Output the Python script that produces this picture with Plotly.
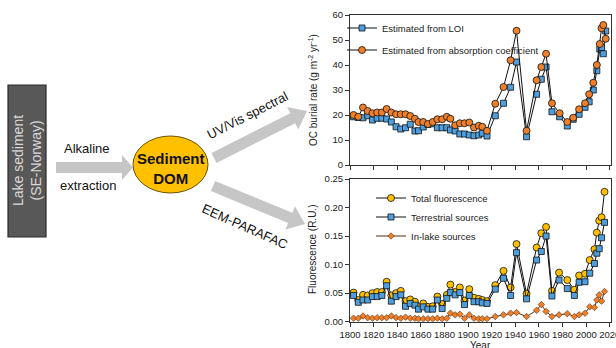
import math
import plotly.graph_objects as go

W, H = 616, 348
FONT = "Liberation Sans, Arial, sans-serif"

# ---------------- data ----------------
years_top = [1803, 1807, 1811, 1815, 1819, 1823, 1827, 1831, 1835, 1839,
             1843, 1847, 1851, 1855, 1858, 1862, 1866, 1870, 1874, 1878,
             1882, 1885, 1889, 1893, 1897, 1901, 1905, 1909, 1912, 1916,
             1923, 1930, 1936, 1941, 1949.5, 1958, 1962, 1966, 1971, 1977.5,
             1984, 1989, 1994, 1999, 2002.5, 2006, 2009, 2011.5, 2013, 2014.5, 2016.5]
oc_loi = [19.3, 19, 18.9, 19.7, 18, 18.7, 18.7, 18.4, 17.2, 15.3,
          14.4, 14.9, 16.3, 13.6, 13.7, 15.2, 16.2, 16.5, 14.9, 14.9,
          14.9, 14, 13.6, 12.4, 12.4, 12, 11.7, 12, 12.7, 11.6,
          19.7, 24.7, 31.1, 41.2, 11.3, 28.3, 34.3, 39.2, 21.3, 19.3,
          15.6, 18.3, 20.3, 23.1, 25.3, 30, 37.7, 46.4, 47, 44.5, 53.6]
oc_abs = [20, 19.3, 23, 21.6, 20.7, 21, 21, 22.4, 21, 20.3,
          20.3, 20.3, 19.6, 18.5, 17.2, 17.2, 16.4, 17.2, 18.3, 18.3,
          19.3, 18.5, 15.9, 16.7, 16.7, 17, 15, 15.7, 15.3, 13.7,
          24.5, 31.2, 41.9, 53.7, 13.7, 33.9, 39.2, 44.5, 24.7, 20.7,
          17.2, 18.9, 22.3, 24.7, 28.3, 32.9, 40, 48.4, 54.7, 56, 50.5]

years_bot = [1803, 1807, 1811, 1815, 1819, 1823, 1827, 1831, 1835, 1839,
             1843, 1847, 1851, 1855, 1858, 1862, 1866, 1870, 1874, 1878,
             1882, 1885, 1889, 1893, 1897, 1901, 1905, 1909, 1912, 1916,
             1923, 1930, 1936, 1941, 1949.5, 1958, 1962, 1966, 1971, 1977,
             1984, 1990, 1994, 1999, 2003, 2007, 2009, 2011, 2013, 2015.5]
fl_total = [0.051, 0.038, 0.047, 0.046, 0.050, 0.052, 0.052, 0.070, 0.046, 0.050,
            0.054, 0.036, 0.039, 0.035, 0.026, 0.032, 0.026, 0.027, 0.044, 0.031,
            0.047, 0.065, 0.052, 0.060, 0.037, 0.057, 0.042, 0.040, 0.038, 0.036,
            0.064, 0.089, 0.060, 0.136, 0.049, 0.130, 0.155, 0.166, 0.054, 0.086,
            0.073, 0.056, 0.081, 0.084, 0.108, 0.127, 0.156, 0.177, 0.183, 0.2275]
fl_terr = [0.046, 0.034, 0.038, 0.038, 0.044, 0.044, 0.046, 0.063, 0.036, 0.044,
           0.047, 0.027, 0.032, 0.029, 0.022, 0.026, 0.022, 0.022, 0.038, 0.023,
           0.041, 0.051, 0.047, 0.051, 0.030, 0.046, 0.035, 0.035, 0.033, 0.032,
           0.057, 0.076, 0.046, 0.121, 0.040, 0.108, 0.123, 0.150, 0.045, 0.073,
           0.058, 0.046, 0.069, 0.070, 0.085, 0.102, 0.120, 0.128, 0.147, 0.174]
fl_lake = [0.006, 0.006, 0.010, 0.007, 0.006, 0.007, 0.007, 0.007, 0.010, 0.007,
           0.006, 0.008, 0.006, 0.006, 0.005, 0.005, 0.005, 0.005, 0.006, 0.005,
           0.006, 0.015, 0.012, 0.013, 0.006, 0.012, 0.006, 0.005, 0.005, 0.005,
           0.009, 0.012, 0.015, 0.016, 0.009, 0.020, 0.030, 0.018, 0.009, 0.012,
           0.014, 0.009, 0.012, 0.015, 0.026, 0.025, 0.038, 0.047, 0.036, 0.053]

top_ticks = [0, 10, 20, 30, 40, 50, 60]
bot_ticks = [0.00, 0.05, 0.10, 0.15, 0.20, 0.25]
year_ticks = list(range(1800, 2021, 20))

BLUE = "#4f9fde"
ORANGE = "#f07f2a"
YELLOW = "#ffc000"
AX = "#333333"


def px(x):
    return x / W


def py(y):
    return 1 - y / H


fig = go.Figure()

mk_line = dict(color="#111111", width=0.8)
fig.add_trace(go.Scatter(x=years_top, y=oc_loi, mode="lines+markers", name="Estimated from LOI",
                         legendgroup="a", line=dict(color="#111111", width=1),
                         marker=dict(symbol="square", size=6, color=BLUE, line=mk_line),
                         xaxis="x", yaxis="y", legend="legend"))
fig.add_trace(go.Scatter(x=years_top, y=oc_abs, mode="lines+markers", name="Estimated from absorption coefficient",
                         legendgroup="b", line=dict(color="#111111", width=1),
                         marker=dict(symbol="circle", size=7, color=ORANGE, line=mk_line),
                         xaxis="x", yaxis="y", legend="legend"))
fig.add_trace(go.Scatter(x=years_bot, y=fl_total, mode="lines+markers", name="Total fluorescence",
                         legendgroup="c", line=dict(color="#111111", width=1),
                         marker=dict(symbol="circle", size=7, color=YELLOW, line=mk_line),
                         xaxis="x2", yaxis="y2", legend="legend2"))
fig.add_trace(go.Scatter(x=years_bot, y=fl_terr, mode="lines+markers", name="Terrestrial sources",
                         legendgroup="d", line=dict(color="#111111", width=1),
                         marker=dict(symbol="square", size=6, color=BLUE, line=mk_line),
                         xaxis="x2", yaxis="y2", legend="legend2"))
fig.add_trace(go.Scatter(x=years_bot, y=fl_lake, mode="lines+markers", name="In-lake sources",
                         legendgroup="e", line=dict(color="#5a3010", width=1),
                         marker=dict(symbol="diamond", size=5, color=ORANGE, line=dict(color="#5a3010", width=0.6)),
                         xaxis="x2", yaxis="y2", legend="legend2"))

xdom = [px(350), px(611)]
axcommon = dict(showline=True, linecolor=AX, linewidth=1, mirror=True, ticks="outside",
                ticklen=4, tickcolor=AX, showgrid=False, zeroline=False, automargin=False,
                ticklabeloverflow="allow",
                tickfont=dict(family=FONT, size=9.5, color="#222"))

fig.update_layout(
    width=W, height=H, margin=dict(l=0, r=0, t=0, b=0, pad=0, autoexpand=False),
    paper_bgcolor="white", plot_bgcolor="white",
    font=dict(family=FONT, color="#222"),
    xaxis=dict(domain=xdom, range=[1800, 2021], tickvals=year_ticks, showticklabels=False,
               anchor="y", **axcommon),
    yaxis=dict(domain=[py(165), py(15)], range=[0, 60], tickvals=top_ticks, anchor="x", **axcommon),
    xaxis2=dict(domain=xdom, range=[1800, 2021], tickvals=year_ticks, anchor="y2", **axcommon),
    yaxis2=dict(domain=[py(321.7), py(179)], range=[0, 0.25], tickvals=bot_ticks, tickformat=".2f",
                anchor="x2", **axcommon),
    legend=dict(x=px(342), y=py(13.5), xanchor="left", yanchor="top", bgcolor="rgba(0,0,0,0)",
                font=dict(family=FONT, size=9.5, color="#222"), itemwidth=30, tracegroupgap=3),
    legend2=dict(x=px(371), y=py(183.5), xanchor="left", yanchor="top", bgcolor="rgba(0,0,0,0)",
                 font=dict(family=FONT, size=9.5, color="#222"), itemwidth=30, tracegroupgap=0),
    showlegend=True,
)


def label(x, y, text, size, color="#111", angle=0):
    fig.add_annotation(x=px(x), y=py(y), xref="paper", yref="paper", showarrow=False,
                       xanchor="center", yanchor="middle", textangle=angle, text=text,
                       font=dict(family=FONT, size=size, color=color))


# axis titles
label(313, 90, "OC burial rate (g m<sup>-2</sup> yr<sup>-1</sup>)", 10, "#222", -90)
label(313, 250, "Fluorescence (R.U.)", 10, "#222", -90)
label(480, 345, "Year", 10, "#222")

# ---------------- diagram ----------------
GRAY_ARROW = "#c6c6c6"


def arrow_path(x0, y0, x1, y1, w, hw, hl):
    dx, dy = x1 - x0, y1 - y0
    L = math.hypot(dx, dy)
    ux, uy = dx / L, dy / L
    nx, ny = -uy, ux
    bx, by = x1 - ux * hl, y1 - uy * hl
    pts = [
        (x0 + nx * w / 2, y0 + ny * w / 2),
        (bx + nx * w / 2, by + ny * w / 2),
        (bx + nx * hw / 2, by + ny * hw / 2),
        (x1, y1),
        (bx - nx * hw / 2, by - ny * hw / 2),
        (bx - nx * w / 2, by - ny * w / 2),
        (x0 - nx * w / 2, y0 - ny * w / 2),
    ]
    return "M " + " L ".join(f"{px(a):.5f} {py(b):.5f}" for a, b in pts) + " Z"


fig.add_shape(type="rect", xref="paper", yref="paper", x0=px(8), x1=px(46), y0=py(237), y1=py(85),
              fillcolor="#585858", line=dict(color="#2a2a2a", width=1.2))
label(27, 161, "Lake sediment<br>(SE-Norway)", 14, "#d8d8d8", -90)

fig.add_shape(type="path", xref="paper", yref="paper", path=arrow_path(56, 167.5, 133, 167.5, 11, 25, 11),
              fillcolor=GRAY_ARROW, line=dict(width=0))
fig.add_shape(type="path", xref="paper", yref="paper", path=arrow_path(214, 158, 307, 111, 11, 25, 16),
              fillcolor=GRAY_ARROW, line=dict(width=0))
fig.add_shape(type="path", xref="paper", yref="paper", path=arrow_path(213, 186, 305, 224, 11, 25, 16),
              fillcolor=GRAY_ARROW, line=dict(width=0))

label(87, 148, "Alkaline", 13)
label(88, 185, "extraction", 13)

fig.add_shape(type="circle", xref="paper", yref="paper", x0=px(133), x1=px(208), y0=py(193), y1=py(136),
              fillcolor=YELLOW, line=dict(color="#6b5000", width=1))
label(171, 168, "<b>Sediment<br>DOM</b>", 15)

label(247, 115, "UV/Vis spectral", 13, "#111", -27)
label(245, 226, "EEM-PARAFAC", 13, "#111", 24)

fig.write_html("out.html", post_script="document.body.style.margin='0';",
               config={"displayModeBar": False})
